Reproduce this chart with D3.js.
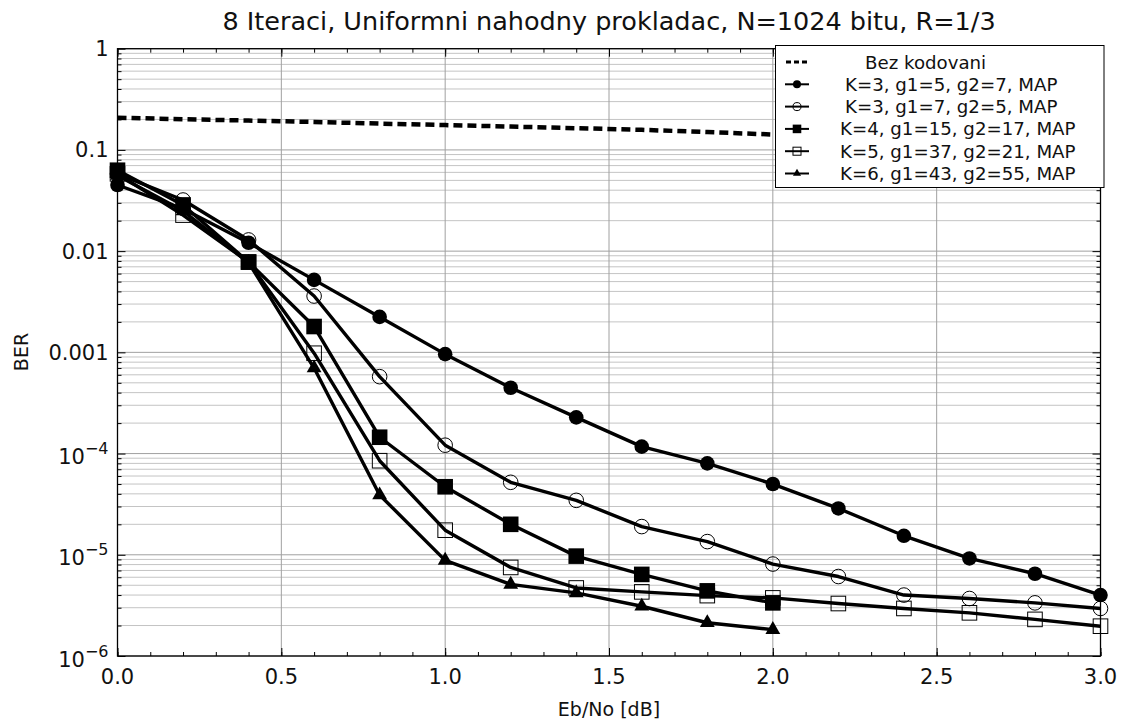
<!DOCTYPE html>
<html>
<head>
<meta charset="utf-8">
<script src="https://cdn.jsdelivr.net/npm/d3@7"></script>
<style>
  html, body { margin: 0; padding: 0; background: #fff; }
  svg { display: block; font-family: "DejaVu Sans", Verdana, sans-serif; }
</style>
</head>
<body>
<svg id="chart" width="1128" height="727"></svg>
<script>
// Eb/No sample points [dB]
const ebno = [0.0, 0.2, 0.4, 0.6, 0.8, 1.0, 1.2, 1.4, 1.6, 1.8, 2.0, 2.2, 2.4, 2.6, 2.8, 3.0];
const ebnoShort = [0.0, 0.2, 0.4, 0.6, 0.8, 1.0, 1.2, 1.4, 1.6, 1.8, 2.0];

// BER without coding
const berUncoded = [0.208, 0.201, 0.195, 0.189, 0.182, 0.176, 0.170, 0.164, 0.158, 0.150, 0.142];
// K=3, g1=5, g2=7, MAP
const berK3a = [0.045, 0.0262, 0.0121, 0.0052, 0.00224, 0.00096, 0.000447, 0.000228, 0.000117, 8.0e-5, 5.0e-5, 2.87e-5, 1.54e-5, 9.2e-6, 6.5e-6, 4.0e-6];
// K=3, g1=7, g2=5, MAP
const berK3b = [0.058, 0.032, 0.0129, 0.0036, 0.000575, 0.000121, 5.2e-5, 3.45e-5, 1.9e-5, 1.35e-5, 8.1e-6, 6.1e-6, 4.0e-6, 3.7e-6, 3.35e-6, 2.95e-6];
// K=4, g1=15, g2=17, MAP
const berK4 = [0.063, 0.0286, 0.0078, 0.0018, 0.000145, 4.7e-5, 2.0e-5, 9.7e-6, 6.4e-6, 4.4e-6, 3.35e-6];
// K=5, g1=37, g2=21, MAP
const berK5 = [0.058, 0.0227, 0.0078, 0.00098, 8.5e-5, 1.75e-5, 7.5e-6, 4.7e-6, 4.3e-6, 3.95e-6, 3.75e-6, 3.3e-6, 2.95e-6, 2.67e-6, 2.3e-6, 1.97e-6];
// K=6, g1=43, g2=55, MAP
const berK6 = [0.056, 0.025, 0.0077, 0.0007, 3.9e-5, 8.8e-6, 5.1e-6, 4.2e-6, 3.1e-6, 2.13e-6, 1.82e-6];

const seriesLabels = [
  "Bez kodovani",
  "K=3, g1=5, g2=7, MAP",
  "K=3, g1=7, g2=5, MAP",
  "K=4, g1=15, g2=17, MAP",
  "K=5, g1=37, g2=21, MAP",
  "K=6, g1=43, g2=55, MAP"
];
const xTickLabels = ["0.0", "0.5", "1.0", "1.5", "2.0", "2.5", "3.0"];
const yTickLabels = ["1", "0.1", "0.01", "0.001", "10|−4", "10|−5", "10|−6"];

const titleText = "8 Iteraci, Uniformni nahodny prokladac, N=1024 bitu, R=1/3";
const xLabel = "Eb/No [dB]";
const yLabel = "BER";

// ---- layout ----
const svg = d3.select("#chart");
const plot = { left: 117.5, right: 1100.5, top: 48.7, bottom: 656 };

const x = d3.scaleLinear().domain([0, 3]).range([plot.left, plot.right]);
const y = d3.scaleLog().domain([1e-6, 1]).range([plot.bottom, plot.top]);

const decades = d3.range(-6, 1).map(e => Math.pow(10, e));
const minorY = [];
for (let e = -6; e < 0; e++) for (let m = 2; m <= 9; m++) minorY.push(m * Math.pow(10, e));
const majorX = d3.range(0, 3.0001, 0.5);
const minorX = d3.range(0, 3.0001, 0.1);

// ---- grid ----
const grid = svg.append("g");
grid.selectAll("line.hmin").data(minorY).join("line")
  .attr("x1", plot.left).attr("x2", plot.right)
  .attr("y1", d => y(d)).attr("y2", d => y(d))
  .attr("stroke", "#c4c4c4").attr("stroke-width", 1);
grid.selectAll("line.hmaj").data(decades).join("line")
  .attr("x1", plot.left).attr("x2", plot.right)
  .attr("y1", d => y(d)).attr("y2", d => y(d))
  .attr("stroke", "#a0a0a0").attr("stroke-width", 1);
grid.selectAll("line.vmaj").data(majorX).join("line")
  .attr("x1", d => x(d)).attr("x2", d => x(d))
  .attr("y1", plot.top).attr("y2", plot.bottom)
  .attr("stroke", "#a0a0a0").attr("stroke-width", 1);

// ---- axes (ticks inward on all four sides) ----
const fmtNone = () => "";
const axB = d3.axisTop(x).tickValues(minorX).tickSize(4).tickFormat(fmtNone);
const axBmaj = d3.axisTop(x).tickValues(majorX).tickSize(8).tickFormat(fmtNone);
const axT = d3.axisBottom(x).tickValues(minorX).tickSize(4).tickFormat(fmtNone);
const axTmaj = d3.axisBottom(x).tickValues(majorX).tickSize(8).tickFormat(fmtNone);
const axL = d3.axisRight(y).tickValues(minorY).tickSize(4).tickFormat(fmtNone);
const axLmaj = d3.axisRight(y).tickValues(decades).tickSize(8).tickFormat(fmtNone);
const axR = d3.axisLeft(y).tickValues(minorY).tickSize(4).tickFormat(fmtNone);
const axRmaj = d3.axisLeft(y).tickValues(decades).tickSize(8).tickFormat(fmtNone);

const axes = svg.append("g");
function addAxis(ax, tx, ty) {
  const g = axes.append("g").attr("transform", `translate(${tx},${ty})`).call(ax);
  g.select(".domain").remove();
  g.selectAll(".tick line").attr("stroke", "#000").attr("stroke-width", 1);
  return g;
}
addAxis(axB, 0, plot.bottom); addAxis(axBmaj, 0, plot.bottom);
addAxis(axT, 0, plot.top); addAxis(axTmaj, 0, plot.top);
addAxis(axL, plot.left, 0); addAxis(axLmaj, plot.left, 0);
addAxis(axR, plot.right, 0); addAxis(axRmaj, plot.right, 0);

// frame
svg.append("rect")
  .attr("x", plot.left).attr("y", plot.top)
  .attr("width", plot.right - plot.left).attr("height", plot.bottom - plot.top)
  .attr("fill", "none").attr("stroke", "#000").attr("stroke-width", 1.3);

// tick labels
svg.append("g").selectAll("text").data(majorX).join("text")
  .attr("x", d => x(d)).attr("y", plot.bottom + 28)
  .attr("text-anchor", "middle").attr("font-size", 21).attr("fill", "#111")
  .text((d, i) => xTickLabels[i]);

const yl = svg.append("g").selectAll("text").data(decades.slice().reverse()).join("text")
  .attr("x", plot.left - 9).attr("y", d => y(d) + 7.5)
  .attr("text-anchor", "end").attr("font-size", 21).attr("fill", "#111");
yl.each(function (d, i) {
  const parts = yTickLabels[i].split("|");
  const t = d3.select(this);
  if (parts.length === 1) { t.text(parts[0]); return; }
  t.append("tspan").text(parts[0]).attr("dy", 3);
  t.append("tspan").text(parts[1]).attr("font-size", 16).attr("dy", -10);
});

// titles
svg.append("text").attr("x", (plot.left + plot.right) / 2).attr("y", 30)
  .attr("text-anchor", "middle").attr("font-size", 25.5).attr("fill", "#111").text(titleText);
svg.append("text").attr("x", (plot.left + plot.right) / 2).attr("y", 716)
  .attr("text-anchor", "middle").attr("font-size", 19).attr("fill", "#111").text(xLabel);
svg.append("text").attr("transform", `translate(28,352) rotate(-90)`)
  .attr("text-anchor", "middle").attr("font-size", 19).attr("fill", "#111").text(yLabel);

// ---- data ----
const dataG = svg.append("g");
const line = d3.line().x(d => x(d[0])).y(d => y(d[1]));

const zip = (xs, ys) => ys.map((v, i) => [xs[i], v]);

// uncoded reference curve (dashed)
dataG.append("path").datum(zip(ebnoShort, berUncoded))
  .attr("d", line).attr("fill", "none").attr("stroke", "#000")
  .attr("stroke-width", 4.5).attr("stroke-dasharray", "9,5");

const series = [
  { pts: zip(ebno, berK3a), marker: "circleFilled" },
  { pts: zip(ebno, berK3b), marker: "circleOpen" },
  { pts: zip(ebnoShort, berK4), marker: "squareFilled" },
  { pts: zip(ebno, berK5), marker: "squareOpen" },
  { pts: zip(ebnoShort, berK6), marker: "triangle" }
];

function drawMarker(g, type, cx, cy, scale) {
  const s = scale;
  if (type === "circleFilled") {
    g.append("circle").attr("cx", cx).attr("cy", cy).attr("r", 7.3 * s).attr("fill", "#000");
  } else if (type === "circleOpen") {
    g.append("circle").attr("cx", cx).attr("cy", cy).attr("r", 7.3 * s)
      .attr("fill", "none").attr("stroke", "#000").attr("stroke-width", 1);
  } else if (type === "squareFilled") {
    const h = 7.8 * s;
    g.append("rect").attr("x", cx - h).attr("y", cy - h).attr("width", 2 * h).attr("height", 2 * h).attr("fill", "#000");
  } else if (type === "squareOpen") {
    const h = 7.3 * s;
    g.append("rect").attr("x", cx - h).attr("y", cy - h).attr("width", 2 * h).attr("height", 2 * h)
      .attr("fill", "none").attr("stroke", "#000").attr("stroke-width", 1);
  } else if (type === "triangle") {
    g.append("path").attr("transform", `translate(${cx},${cy})`)
      .attr("d", d3.symbol(d3.symbolTriangle, 95 * s * s)()).attr("fill", "#000");
  }
}

series.forEach(sr => {
  dataG.append("path").datum(sr.pts).attr("d", line)
    .attr("fill", "none").attr("stroke", "#000").attr("stroke-width", 3.4)
    .attr("stroke-linejoin", "round");
});
series.forEach(sr => {
  const mg = dataG.append("g");
  sr.pts.forEach(p => drawMarker(mg, sr.marker, x(p[0]), y(p[1]), 1));
});

// ---- legend ----
const lg = svg.append("g");
const box = { x: 775.5, y: 45.5, w: 328.5, h: 142 };
lg.append("rect").attr("x", box.x).attr("y", box.y).attr("width", box.w).attr("height", box.h)
  .attr("fill", "#fff").attr("stroke", "#000").attr("stroke-width", 1);

const rowY = d3.range(6).map(i => 62 + i * 22.3);
const textX = [865, 845, 845, 840, 840, 840];
const markers = [null, "circleFilled", "circleOpen", "squareFilled", "squareOpen", "triangle"];

seriesLabels.forEach((lab, i) => {
  const yy = rowY[i];
  if (i === 0) {
    lg.append("line").attr("x1", 786).attr("x2", 807).attr("y1", yy).attr("y2", yy)
      .attr("stroke", "#000").attr("stroke-width", 3).attr("stroke-dasharray", "5,3");
  } else {
    lg.append("line").attr("x1", 785).attr("x2", 809).attr("y1", yy).attr("y2", yy)
      .attr("stroke", "#000").attr("stroke-width", 2);
    drawMarker(lg, markers[i], 797, yy, 0.55);
  }
  lg.append("text").attr("x", textX[i]).attr("y", yy + 6.5)
    .attr("font-size", 18.2).attr("fill", "#111").text(lab);
});
</script>
</body>
</html>
